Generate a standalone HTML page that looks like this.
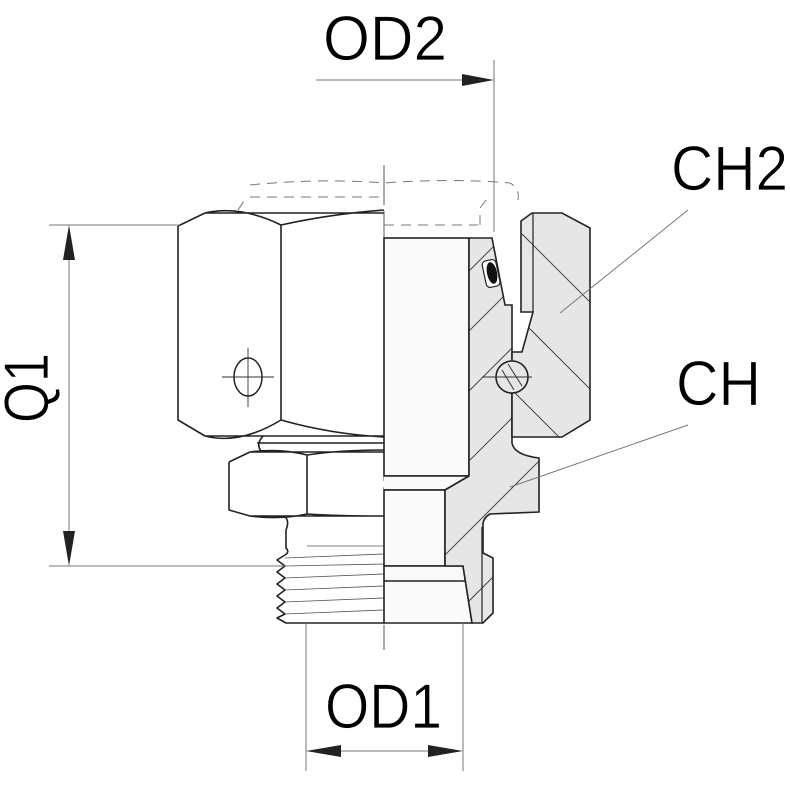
<!DOCTYPE html>
<html><head><style>
html,body{margin:0;padding:0;background:#fff;}
svg{display:block;}
text{font-family:"Liberation Sans",sans-serif;fill:#000;}
</style></head><body>
<svg width="790" height="790" viewBox="0 0 790 790" xmlns="http://www.w3.org/2000/svg">
<defs>
<clipPath id="bodyc"><path d="M469,238 L492,238 L505,305 L512,305 L512,443 Q514,455 539,458 L539,512 L490,514 Q483,518 483,525 L483,553 L493,558 L493,613 L483,623 L472,623 L463,566 L445,566 L445,490 L469,476 Z"/></clipPath>
<clipPath id="nutc"><path d="M521,221 L532,213 L562,213 L590,228 L590,420 L562,437 L512,437 L512,352 L522,352 L533,312 L521,312 Z"/></clipPath>
</defs>
<g fill="none" stroke="#222" stroke-width="1.6" stroke-linejoin="round">
<path d="M205,213 L384,213 M178,226 L205,213 M178,226 L178,420 L205,436 L384,436 M281,225 L281,420 M205,213 Q240,205 281,225 M205,436 Q240,445 281,420 M281,225 Q330,214 384,210 M281,420 Q330,434 384,437" fill="#fff"/>
<path d="M263,436 Q255,445 262,452 M257,443 L384,443"/>
<path d="M229,462 L250,452 L384,452 M229,462 L229,510 L250,516 L384,516 M307,455 L307,514 M250,452 Q280,448 307,455 Q340,450 384,450 M250,516 Q280,520 307,514 Q340,516 384,516"/>
<path d="M284,516 Q290,520 286,530 L286,548 Q290,552 285,555"/>
<path d="M285,555 L277,560 L285,566 L277,572 L285,578 L277,584 L285,590 L277,596 L285,602 L277,608 L285,614 L277,618 L286,623 L384,623"/>
</g>
<g stroke="#555" stroke-width="0.8">
<line x1="285" y1="558" x2="384" y2="554"/><line x1="285" y1="566" x2="384" y2="564"/>
<line x1="285" y1="578" x2="384" y2="574"/><line x1="285" y1="590" x2="384" y2="586"/>
<line x1="285" y1="602" x2="384" y2="598"/><line x1="285" y1="614" x2="384" y2="610"/>
<line x1="307" y1="546" x2="384" y2="546"/>
</g>
<ellipse cx="248" cy="377" rx="14" ry="19" fill="none" stroke="#222" stroke-width="1.5"/>
<line x1="222" y1="377" x2="274" y2="377" stroke="#333" stroke-width="0.9"/>
<line x1="248" y1="348" x2="248" y2="407" stroke="#333" stroke-width="0.9"/>
<line x1="384" y1="165" x2="384" y2="650" stroke="#555" stroke-width="1" stroke-dasharray="40,6"/>
<g fill="none" stroke="#777" stroke-width="1" stroke-dasharray="10,7">
<path d="M250,185 Q320,178 384,183 Q450,178 510,183 Q520,188 518,200"/>
<path d="M250,197 L384,197 M384,225 L478,225 M480,225 L480,208 L490,195"/>
<path d="M238,210 L246,198"/>
</g>
<g fill="#fafafa" stroke="#222" stroke-width="1.6">
<rect x="384" y="238" width="85" height="238"/>
<path d="M384,476 L469,476 L445,490 L384,490"/>
<rect x="384" y="490" width="61" height="76"/>
<path d="M384,566 L463,566 L472,623 L384,623 Z"/>
<line x1="384" y1="581" x2="465" y2="581"/>
</g>
<g clip-path="url(#bodyc)" stroke="#333" stroke-width="0.9">
<rect x="440" y="230" width="110" height="400" fill="#e6e6e6" stroke="none"/>
<line x1="460" y1="280" x2="520" y2="220"/><line x1="460" y1="340" x2="540" y2="260"/>
<line x1="460" y1="400" x2="540" y2="320"/><line x1="440" y1="490" x2="560" y2="370"/>
<line x1="440" y1="560" x2="560" y2="440"/><line x1="460" y1="610" x2="560" y2="510"/>
</g>
<path d="M469,238 L492,238 L505,305 L512,305 L512,443 Q514,455 539,458 L539,512 L490,514 Q483,518 483,525 L483,553 L493,558 L493,613 L483,623 L472,623 L463,566 L445,566 L445,490 L469,476 Z" fill="none" stroke="#222" stroke-width="1.6"/>
<line x1="482" y1="527" x2="482" y2="623" stroke="#222" stroke-width="1.2"/>
<g clip-path="url(#nutc)" stroke="#333" stroke-width="0.9">
<rect x="505" y="205" width="95" height="240" fill="#e6e6e6" stroke="none"/>
<line x1="522" y1="234" x2="591" y2="303"/><line x1="522" y1="321" x2="591" y2="390"/>
<line x1="512" y1="390" x2="560" y2="438"/>
</g>
<path d="M521,221 L532,213 L562,213 L590,228 L590,420 L562,437 L512,437 L512,352 L522,352 L533,312 L521,312 Z" fill="none" stroke="#222" stroke-width="1.6"/>
<line x1="533" y1="213" x2="533" y2="312" stroke="#222" stroke-width="1.2"/>
<circle cx="512" cy="377" r="16" fill="#e6e6e6" stroke="#222" stroke-width="1.6"/>
<line x1="502" y1="370" x2="514" y2="390" stroke="#333"/><line x1="508" y1="364" x2="522" y2="386" stroke="#333"/>
<line x1="482" y1="377" x2="532" y2="377" stroke="#333" stroke-width="0.9"/>
<rect x="484" y="260" width="14" height="27" rx="4" fill="#fff" stroke="#222" stroke-width="1.2" transform="rotate(-12 491 273)"/>
<ellipse cx="492" cy="273" rx="5" ry="11" fill="#111" transform="rotate(-12 492 273)"/>
<g stroke="#777" stroke-width="1">
<line x1="494" y1="60" x2="494" y2="232"/>
<line x1="316" y1="80" x2="470" y2="80"/>
<line x1="49" y1="225" x2="180" y2="225"/>
<line x1="49" y1="566" x2="285" y2="566"/>
<line x1="69" y1="240" x2="69" y2="550"/>
<line x1="306" y1="623" x2="306" y2="771"/>
<line x1="463" y1="623" x2="463" y2="771"/>
<line x1="320" y1="751" x2="450" y2="751"/>
<line x1="688" y1="210" x2="560" y2="313"/>
<line x1="688" y1="425" x2="510" y2="487"/>
</g>
<g fill="#222">
<polygon points="494,80 462,74 462,86"/>
<polygon points="69,225 63,260 75,260"/>
<polygon points="69,566 63,531 75,531"/>
<polygon points="306,751 341,745 341,757"/>
<polygon points="463,751 428,745 428,757"/>
</g>
<g stroke="#fff" stroke-width="0.8">
<text x="323" y="60" font-size="63" textLength="124" lengthAdjust="spacingAndGlyphs">OD2</text>
<text x="671" y="190" font-size="63" textLength="117" lengthAdjust="spacingAndGlyphs">CH2</text>
<text x="676" y="405" font-size="63" textLength="85" lengthAdjust="spacingAndGlyphs">CH</text>
<text x="325" y="728" font-size="63" textLength="117" lengthAdjust="spacingAndGlyphs">OD1</text>
<text transform="translate(48,423) rotate(-90)" font-size="63" textLength="70" lengthAdjust="spacingAndGlyphs">Q1</text>
</g>
</svg>
</body></html>
